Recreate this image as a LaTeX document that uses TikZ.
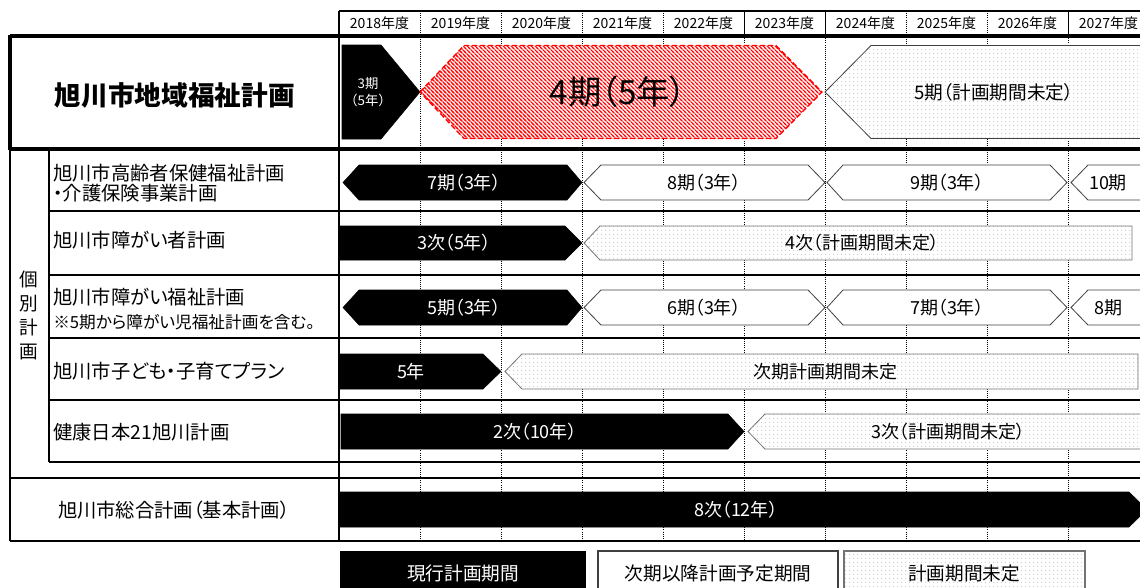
\documentclass[tikz,border=0pt]{standalone}
\usepackage{fontspec}
\setmainfont{Noto Sans CJK JP}[RawFeature=+palt]
\usetikzlibrary{patterns.meta}
\def\planbar[#1](#2:#3:#4)(#5:#6:#7){\draw[#1] (#2,#4) -- ({#2+#5},{#4-#7}) -- ({#3-#6},{#4-#7}) -- (#3,#4) -- ({#3-#6},{#4+#7}) -- ({#2+#5},{#4+#7}) -- cycle;}
\tikzdeclarepattern{name=redhatch, type=colored,
	bottom left={(-1pt,-1pt)}, top right={(4pt,4pt)}, tile size={(3pt,3pt)},
	code={\draw[red, line width=0.8pt] (-1pt,4pt) -- (4pt,-1pt);}}
\tikzdeclarepattern{name=greydots, type=colored,
	bottom left={(0pt,0pt)}, top right={(3pt,3pt)}, tile size={(3pt,3pt)},
	code={\fill[black!35] (1.5pt,1.5pt) circle (0.4pt);}}

\begin{document}
\begin{tikzpicture}[x=0.75pt, y=-0.75pt,
		yr/.style={font=\fontsize{10.5}{12}\selectfont},
		lbl/.style={font=\fontsize{14.5}{15}\selectfont, anchor=west, inner sep=0pt, align=left},
		bartxt/.style={font=\fontsize{13.5}{15}\selectfont, inner sep=0pt},
		blackbar/.style={fill=black, draw=black},
		whitebar/.style={fill=white, draw=black!75, line width=0.6pt},
		dotbar/.style={draw=black!55, line width=0.6pt, preaction={fill=white}, pattern=greydots},
		grid/.style={densely dotted, line width=0.6pt}]
			%%%%% START %%%%%
			
			\clip (0, 0) rectangle (1140, 587);
			
			% year header
			\draw[line width=0.8pt] (339, 11) -- (1145, 11);
			\foreach \yr [count=\i from 0] in {2018,...,2027}
				\node[yr] (y\yr) at ({379.5+81*\i}, 23.5) {\yr 年度};
			\foreach \xx in {420, 501, 582, 663, 906, 987}
				\draw[grid] (\xx, 11) -- (\xx, 541);
			\foreach \xx in {744, 825, 1068}
			{
				\draw[line width=0.6pt] (\xx, 11) -- (\xx, 36);
				\draw[grid] (\xx, 36) -- (\xx, 541);
			}
			
			% table frame
			\draw[line width=0.8pt] (339, 11) -- (339, 541);
			\draw[line width=2.5pt] (10, 36) -- (1145, 36);
			\draw[line width=2.5pt] (10, 149) -- (1145, 149);
			\draw[line width=2.5pt] (10, 35) -- (10, 150);
			\draw[line width=0.8pt] (10, 149) -- (10, 541);
			\draw[line width=0.8pt] (49, 149) -- (49, 462);
			\foreach \yy in {211, 275, 338, 400, 462}
				\draw[line width=0.8pt] (49, \yy) -- (1145, \yy);
			\draw[line width=0.8pt] (10, 478) -- (1145, 478);
			\draw[line width=0.8pt] (10, 541) -- (1145, 541);
			
			% left labels
			\node[font=\bfseries\fontsize{20}{22}\selectfont] (chiiki) at (175, 95) {旭川市地域福祉計画};
			\node[font=\fontsize{14}{18}\selectfont, align=center, inner sep=0pt] (kobetsu) at (29, 315) {個\\別\\計\\画};
			\node[lbl] (koreisha) at (53, 183) {旭川市高齢者保健福祉計画\\・介護保険事業計画};
			\node[lbl] (shogaisha) at (53, 240) {旭川市障がい者計画};
			\node[lbl] (shogaifukushi) at (53, 297) {旭川市障がい福祉計画};
			\node[lbl, font=\fontsize{12.5}{13}\selectfont] (chuki) at (53, 322) {※5期から障がい児福祉計画を含む。};
			\node[lbl] (kodomo) at (53, 371) {旭川市子ども・子育てプラン};
			\node[lbl] (kenko) at (53, 432) {健康日本21旭川計画};
			\node[font=\fontsize{14.5}{15}\selectfont] (sogo) at (174, 510) {旭川市総合計画（基本計画）};
			
			% row 0 : chiiki fukushi
			\planbar[blackbar](342:420:92)(0:39:47)
			\node[white, font=\addfontfeature{RawFeature=-palt}\fontsize{10}{13}\selectfont, align=center, inner sep=0pt] (ki3) at (368, 92) {3期\\（5年）};
			\planbar[draw=red, dash pattern=on 4pt off 2pt, line width=1pt, preaction={fill=white}, pattern=redhatch](420:822:92)(44:46:46.5)
			\node[font=\fontsize{25}{28}\selectfont, inner sep=0pt] (ki4) at (618, 92) {4期（5年）};
			\planbar[dotbar, draw=black!75](825:1170:92)(46:0:46.5)
			\node[bartxt, font=\fontsize{14}{15}\selectfont] (ki5) at (994, 92) {5期（計画期間未定）};
			
			% row 1 : koreisha
			\planbar[blackbar](343:582:182.5)(16:15:17.5)
			\node[bartxt, white] (k7) at (464, 182.5) {7期（3年）};
			\planbar[whitebar](584:825:182.5)(17:17:17.5)
			\node[bartxt] (k8) at (704, 182.5) {8期（3年）};
			\planbar[whitebar](827:1067:182.5)(16:17:17.5)
			\node[bartxt] (k9) at (947, 182.5) {9期（3年）};
			\planbar[whitebar](1071:1180:182.5)(17:0:17.5)
			\node[bartxt] (k10) at (1108, 182.5) {10期};
			
			% row 2 : shogaisha
			\planbar[blackbar](340:582:243)(0:17:17)
			\node[bartxt, white] (s3) at (454, 243) {3次（5年）};
			\planbar[dotbar](584:1132:243)(16:0:17)
			\node[bartxt] (s4) at (862, 243) {4次（計画期間未定）};
			
			% row 3 : shogai fukushi
			\planbar[blackbar](343:582:307.5)(16:15:17.5)
			\node[bartxt, white] (f5) at (464, 307.5) {5期（3年）};
			\planbar[whitebar](584:825:307.5)(17:17:17.5)
			\node[bartxt] (f6) at (704, 307.5) {6期（3年）};
			\planbar[whitebar](827:1067:307.5)(16:17:17.5)
			\node[bartxt] (f7) at (947, 307.5) {7期（3年）};
			\planbar[whitebar](1071:1180:307.5)(17:0:17.5)
			\node[bartxt] (f8) at (1108, 307.5) {8期};
			
			% row 4 : kodomo
			\planbar[blackbar](340:501:371.5)(0:18:17.5)
			\node[bartxt, white] (c5) at (411, 371.5) {5年};
			\planbar[dotbar](505:1138:371.5)(17:0:17.5)
			\node[bartxt] (cnext) at (825, 371.5) {次期計画期間未定};
			
			% row 5 : kenko
			\planbar[blackbar](341:744:431.5)(0:16:17.5)
			\node[bartxt, white] (h2) at (535, 431.5) {2次（10年）};
			\planbar[dotbar](748:1180:431.5)(17:0:17.5)
			\node[bartxt] (h3) at (948, 431.5) {3次（計画期間未定）};
			
			% sogo keikaku
			\planbar[blackbar](340:1147:509.5)(0:18:17.5)
			\node[bartxt, white] (g8) at (736, 509.5) {8次（12年）};
			
			% legend
			\draw[fill=black] (340, 551) rectangle (585, 600);
			\node[white, font=\fontsize{14}{15}\selectfont] (lgcur) at (463, 573) {現行計画期間};
			\draw[fill=white, draw=black!75, line width=0.8pt] (598, 551) rectangle (838, 600);
			\node[font=\fontsize{14}{15}\selectfont] (lgnext) at (718, 573) {次期以降計画予定期間};
			\draw[dotbar, line width=0.8pt] (844, 551) rectangle (1085, 600);
			\node[font=\fontsize{14}{15}\selectfont] (lgtbd) at (964, 573) {計画期間未定};
			
			%%%%% END %%%%%
		\end{tikzpicture}
\end{document}
